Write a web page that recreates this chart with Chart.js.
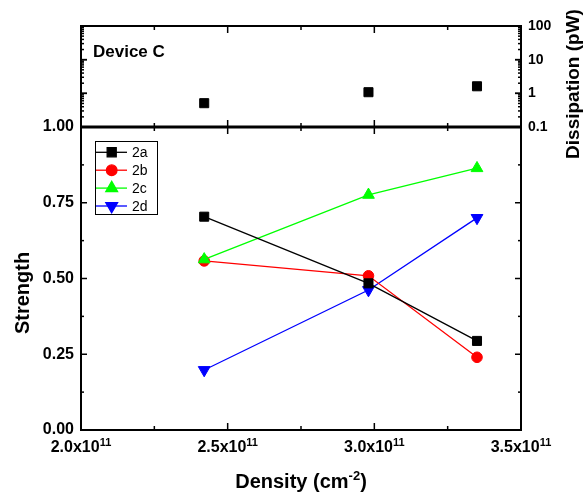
<!DOCTYPE html>
<html>
<head>
<meta charset="utf-8">
<script src="https://cdn.jsdelivr.net/npm/chart.js@4"></script>
<style>
  body { margin: 0; background: #fff; }
  #wrap { position: relative; width: 587px; height: 493px; }
  #wrap canvas { position: absolute; left: 0; top: 0; }
</style>
</head>
<body>
<div id="wrap">
  <canvas id="bottom" width="587" height="493"></canvas>
  <canvas id="top" width="587" height="493"></canvas>
</div>
<script>
// values
const densities = [2.42e11, 2.98e11, 3.35e11];
const dissipation = [0.51, 1.08, 1.62];
const strength2a = [0.704, 0.484, 0.294];
const strength2b = [0.558, 0.509, 0.240];
const strength2c = [0.563, 0.776, 0.864];
const strength2d = [0.198, 0.462, 0.700];
const seriesNames = ['2a', '2b', '2c', '2d'];
const seriesColors = ['#000000', '#ff0000', '#00ff00', '#0000ff'];
const densityTicks = [2.0e11, 2.5e11, 3.0e11, 3.5e11];
const strengthTicks = [0, 0.25, 0.5, 0.75, 1.0];
const dissipationTicks = [0.1, 1, 10, 100];

Chart.defaults.font.family = "'Liberation Sans', Arial, sans-serif";
Chart.defaults.color = '#000';
Chart.defaults.animation = false;

const FAM = "'Liberation Sans', Arial, sans-serif";
const xMin = 2.0e11, xMax = 3.5e11;
const bold = (size) => ({ size: size, weight: 'bold' });

function pts(ys) {
  return densities.map((x, i) => ({ x: x, y: ys[i] }));
}

// marker styles per series
const markers = [
  { pointStyle: 'rect', radius: 6.4, rotation: 0 },
  { pointStyle: 'circle', radius: 5.3, rotation: 0 },
  { pointStyle: 'triangle', radius: 6.8, rotation: 0 },
  { pointStyle: 'triangle', radius: 6.8, rotation: 180 }
];
const drawOrder = [0, 2, 1, 3];

function line(ctx, x1, y1, x2, y2) {
  ctx.beginPath();
  ctx.moveTo(x1, y1);
  ctx.lineTo(x2, y2);
  ctx.stroke();
}

// text with a raised superscript part, centred on cx
function supText(ctx, main, sup, tail, cx, base, size, supSize, raise) {
  ctx.font = 'bold ' + size + 'px ' + FAM;
  const w1 = ctx.measureText(main).width;
  const w3 = tail ? ctx.measureText(tail).width : 0;
  ctx.font = 'bold ' + supSize + 'px ' + FAM;
  const w2 = ctx.measureText(sup).width;
  let x = cx - (w1 + w2 + w3) / 2;
  ctx.textAlign = 'left';
  ctx.textBaseline = 'alphabetic';
  ctx.font = 'bold ' + size + 'px ' + FAM;
  ctx.fillText(main, x, base);
  ctx.font = 'bold ' + supSize + 'px ' + FAM;
  ctx.fillText(sup, x + w1, base - raise);
  if (tail) {
    ctx.font = 'bold ' + size + 'px ' + FAM;
    ctx.fillText(tail, x + w1 + w2, base);
  }
}

function vText(ctx, text, cx, cy, size) {
  ctx.save();
  ctx.translate(cx, cy);
  ctx.rotate(-Math.PI / 2);
  ctx.font = 'bold ' + size + 'px ' + FAM;
  ctx.textAlign = 'center';
  ctx.textBaseline = 'middle';
  ctx.fillText(text, 0, 0);
  ctx.restore();
}

// x ticks on a horizontal edge, pointing inward (dir = +1 down, -1 up)
function xEdgeTicks(ctx, xs, y, dir) {
  for (let i = 0; i <= 6; i++) {
    const v = xMin + i * 0.25e11;
    const px = xs.getPixelForValue(v);
    const len = i % 2 === 0 ? 7 : 4;
    line(ctx, px, y, px, y + dir * len);
  }
}

const framePlugins = {
  top: {
    id: 'frameTop',
    afterDraw(chart) {
      const { ctx, chartArea: a, scales } = chart;
      ctx.save();
      ctx.strokeStyle = '#000';
      ctx.lineWidth = 2;
      ctx.strokeRect(a.left, a.top, a.right - a.left, a.bottom - a.top);
      ctx.lineWidth = 1.5;
      xEdgeTicks(ctx, scales.x, a.top, 1);
      xEdgeTicks(ctx, scales.x, a.bottom, -1);
      // log ticks both sides
      for (let d = 0; d < 3; d++) {
        const base = 0.1 * Math.pow(10, d);
        for (let m = 1; m <= 10; m++) {
          const py = scales.y.getPixelForValue(base * m);
          const len = (m === 1 || m === 10) ? 6 : 3;
          line(ctx, a.left, py, a.left + len, py);
          line(ctx, a.right, py, a.right - len, py);
        }
      }
      ctx.fillStyle = '#000';
      ctx.font = 'bold 17px ' + FAM;
      ctx.textBaseline = 'middle';
      ctx.fillText('Device C', 93, 52);
      vText(ctx, 'Dissipation (pW)', 574, 84, 19);
      ctx.restore();
    }
  },
  bottom: {
    id: 'frameBottom',
    afterDraw(chart) {
      const { ctx, chartArea: a, scales } = chart;
      ctx.save();
      ctx.strokeStyle = '#000';
      ctx.lineWidth = 2;
      ctx.strokeRect(a.left, a.top, a.right - a.left, a.bottom - a.top);
      ctx.lineWidth = 3;
      line(ctx, a.left - 1, a.top, a.right + 1, a.top);
      ctx.lineWidth = 1.5;
      xEdgeTicks(ctx, scales.x, a.top, 1);
      xEdgeTicks(ctx, scales.x, a.bottom, -1);
      for (let i = 0; i <= 8; i++) {
        const py = scales.y.getPixelForValue(i * 0.125);
        const len = i % 2 === 0 ? 6 : 3;
        line(ctx, a.left, py, a.left + len, py);
        line(ctx, a.right, py, a.right - len, py);
      }
      // x tick labels and titles with superscripts
      ctx.fillStyle = '#000';
      densityTicks.forEach(v => {
        const px = scales.x.getPixelForValue(v);
        supText(ctx, (v / 1e11).toFixed(1) + 'x10', '11', '', px, 452, 16, 11, 6);
      });
      supText(ctx, 'Density (cm', '-2', ')', (a.left + a.right) / 2, 488, 20, 13, 8);
      vText(ctx, 'Strength', 23, 293, 20);
      // legend
      const bx = 95, by = 141, bw = 62, bh = 73;
      ctx.strokeStyle = '#000';
      ctx.lineWidth = 1;
      ctx.strokeRect(bx + 0.5, by + 0.5, bw, bh);
      ctx.font = '14px ' + FAM;
      ctx.textAlign = 'left';
      ctx.textBaseline = 'middle';
      seriesNames.forEach((name, i) => {
        const y = 152.3 + i * 17.9;
        ctx.strokeStyle = seriesColors[i];
        ctx.fillStyle = seriesColors[i];
        ctx.lineWidth = 1.3;
        line(ctx, 96, y, 127, y);
        Chart.helpers.drawPoint(ctx, Object.assign({ borderWidth: 1 }, markers[i]), 111.7, y);
        ctx.fillStyle = '#000';
        ctx.fillText(name, 132, y + 1);
      });
      ctx.restore();
    }
  }
};

// top panel: dissipation, log scale on the right
new Chart(document.getElementById('top'), {
  type: 'scatter',
  data: {
    datasets: [{
      label: 'Dissipation',
      data: pts(dissipation),
      pointStyle: 'rect',
      pointRadius: 6.4,
      backgroundColor: '#000',
      borderColor: '#000',
      borderWidth: 1
    }]
  },
  options: {
    responsive: false,
    layout: { padding: { left: 81, top: 26, bottom: 366, right: 0 } },
    plugins: { legend: { display: false }, tooltip: { enabled: false } },
    scales: {
      x: { type: 'linear', min: xMin, max: xMax, display: false },
      y: {
        type: 'logarithmic',
        position: 'right',
        min: 0.1, max: 100,
        afterFit(s) { s.width = 66; },
        afterBuildTicks(s) { s.ticks = dissipationTicks.map(v => ({ value: v })); },
        grid: { display: false, drawTicks: false },
        border: { display: false },
        ticks: { font: bold(14), padding: 7, callback: v => String(v) },
        title: { display: false }
      }
    }
  },
  plugins: [framePlugins.top]
});

// bottom panel: strength vs density
const strengthSeries = [strength2a, strength2b, strength2c, strength2d];
new Chart(document.getElementById('bottom'), {
  type: 'scatter',
  data: {
    datasets: strengthSeries.map((ys, i) => ({
      label: seriesNames[i],
      data: pts(ys),
      showLine: true,
      order: drawOrder[i],
      borderColor: seriesColors[i],
      backgroundColor: seriesColors[i],
      borderWidth: 1.3,
      pointStyle: markers[i].pointStyle,
      pointRotation: markers[i].rotation,
      pointRadius: markers[i].radius,
      pointBorderWidth: 1
    }))
  },
  options: {
    responsive: false,
    layout: { padding: { left: 0, top: 127, bottom: 0, right: 66 } },
    plugins: { legend: { display: false }, tooltip: { enabled: false } },
    scales: {
      x: {
        type: 'linear', min: xMin, max: xMax,
        afterFit(s) { s.height = 63; },
        afterBuildTicks(s) { s.ticks = densityTicks.map(v => ({ value: v })); },
        grid: { display: false, drawTicks: false },
        border: { display: false },
        ticks: { display: false },
        title: { display: false }
      },
      y: {
        type: 'linear', min: 0, max: 1,
        afterFit(s) { s.width = 81; },
        afterBuildTicks(s) { s.ticks = strengthTicks.map(v => ({ value: v })); },
        grid: { display: false, drawTicks: false },
        border: { display: false },
        ticks: { font: bold(16), padding: 7, callback: v => v.toFixed(2) },
        title: { display: false }
      }
    }
  },
  plugins: [framePlugins.bottom]
});
</script>
</body>
</html>
